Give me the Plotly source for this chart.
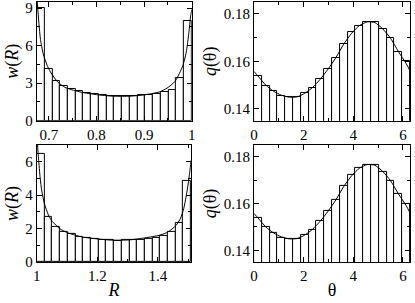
import numpy as np
import plotly.graph_objects as go

# ---------------- data ----------------
# top-left: w(R), 20 bins on [0.675, 1.0]
wR1_edges = np.linspace(0.675, 1.0, 21)
wR1_hist = [9.0, 4.15, 3.2, 2.75, 2.52, 2.36, 2.22, 2.1, 2.03, 1.98,
            1.96, 1.97, 2.0, 2.03, 2.08, 2.16, 2.32, 2.45, 3.44, 8.0]
wR1_curve_R = [0.6752, 0.6793, 0.6826, 0.6883, 0.6965, 0.7034, 0.7193, 0.7344,
               0.7518, 0.769, 0.8, 0.833, 0.8657, 0.8988, 0.932, 0.948, 0.965,
               0.974, 0.9814, 0.9884, 0.9938, 0.9973, 1.0]
wR1_curve_w = [9.8, 7.8, 6.5, 5.35, 4.43, 3.9, 3.07, 2.66, 2.43, 2.27, 2.08,
               1.96, 1.95, 2.05, 2.3, 2.6, 3.15, 3.78, 4.43, 5.48, 7.04, 8.3, 8.9]

# bottom-left: w(R), 20 bins on [1.0, 1.51]
wR2_edges = np.linspace(1.0, 1.51, 21)
wR2_hist = [6.45, 2.72, 2.1, 1.82, 1.66, 1.53, 1.45, 1.38, 1.32, 1.3,
            1.29, 1.3, 1.32, 1.35, 1.4, 1.47, 1.58, 1.82, 2.35, 4.87]
wR2_curve_R = [1.0015, 1.0055, 1.011, 1.0162, 1.025, 1.038, 1.051, 1.076, 1.1,
               1.126, 1.151, 1.2, 1.252, 1.305, 1.357, 1.408, 1.434, 1.46,
               1.4755, 1.486, 1.497, 1.506, 1.51]
wR2_curve_w = [7.2, 6.17, 5.02, 4.25, 3.49, 2.82, 2.43, 1.99, 1.76, 1.61, 1.49,
               1.38, 1.3, 1.32, 1.44, 1.61, 1.8, 2.18, 2.62, 3.2, 4.25, 5.4, 6.07]

# right panels: q(theta), 20 bins on [0, 2*pi]
q_edges = np.linspace(0.0, 2 * np.pi, 21)
q_hist = [0.1539, 0.1498, 0.1473, 0.1455, 0.1448, 0.1449, 0.1466, 0.1489,
          0.1525, 0.1568, 0.1615, 0.1674, 0.1723, 0.1750, 0.1766, 0.1764,
          0.1735, 0.1698, 0.1640, 0.1600]
q_curve_t = [0.0, 0.157, 0.47, 0.785, 1.1, 1.41, 1.73, 2.04, 2.36, 2.67, 2.98,
             3.30, 3.61, 3.93, 4.24, 4.56, 4.87, 5.18, 5.50, 5.81, 6.13, 6.2832]
q_curve_v = [0.1557, 0.1538, 0.1500, 0.1474, 0.1457, 0.1449, 0.1450, 0.1465,
             0.1490, 0.1525, 0.1567, 0.1616, 0.1672, 0.1718, 0.1750, 0.1766,
             0.1763, 0.1737, 0.1697, 0.1642, 0.1590, 0.1560]

# ---------------- figure ----------------
FONT = "Times New Roman"
fig = go.Figure()


def add_panel(n, edges, hist, cx, cy):
    edges = np.asarray(edges)
    centers = (edges[:-1] + edges[1:]) / 2
    widths = np.diff(edges)
    xa = "x" if n == 1 else f"x{n}"
    ya = "y" if n == 1 else f"y{n}"
    fig.add_trace(go.Bar(x=centers, y=hist, width=widths, xaxis=xa, yaxis=ya,
                         marker=dict(color="white", line=dict(color="black", width=1)),
                         showlegend=False, hoverinfo="skip"))
    fig.add_trace(go.Scatter(x=cx, y=cy, mode="lines", xaxis=xa, yaxis=ya,
                             line=dict(color="black", width=1, shape="spline", smoothing=0.6),
                             showlegend=False, cliponaxis=True))


add_panel(1, wR1_edges, wR1_hist, wR1_curve_R, wR1_curve_w)
add_panel(2, q_edges, q_hist, q_curve_t, q_curve_v)
add_panel(3, wR2_edges, wR2_hist, wR2_curve_R, wR2_curve_w)
add_panel(4, q_edges, q_hist, q_curve_t, q_curve_v)

W, H = 415, 303
xl = [33.5 / W, 191.5 / W]
xl3 = [33.5 / W, 190.7 / W]
xr = [255 / W, 414 / W]
yt = [(H - 123.3) / H, (H - 1) / H]
yb = [(H - 269) / H, (H - 148.3) / H]

tickfont = dict(family=FONT, size=15, color="black")
titlefont = dict(family=FONT, size=18, color="black")


def ax(domain, rng, dtick, minor, title=None, anchor=None, fmt=None, standoff=None):
    d = dict(domain=domain, range=rng, dtick=dtick, tick0=0, showline=True, mirror="ticks",
             linecolor="black", linewidth=1, ticks="inside", ticklen=5, tickwidth=1,
             tickcolor="black", showgrid=False, zeroline=False, tickfont=tickfont,
             minor=dict(ticks="inside", ticklen=3, dtick=minor, tickcolor="black",
                        tickwidth=1, showgrid=False),
             anchor=anchor, fixedrange=True, ticklabeloverflow="allow")
    if fmt:
        d["tickformat"] = fmt
    if title:
        d["title"] = dict(text=title, font=titlefont, standoff=standoff if standoff is not None else 2)
    return d


fig.update_layout(
    width=W, height=H, autosize=False,
    margin=dict(l=0, r=0, t=0, b=0),
    paper_bgcolor="white", plot_bgcolor="white",
    font=dict(family=FONT, size=15, color="black"),
    bargap=0,
    xaxis=ax(xl, [0.675, 1.0], 0.1, 0.05, anchor="y"),
    yaxis=ax(yt, [0, 9.5], 3, 1.5, title="<i>w</i>(<i>R</i>)", anchor="x"),
    xaxis2=ax(xr, [0, 2 * np.pi], 2, 1, anchor="y2"),
    yaxis2=ax(yt, [0.135, 0.185], 0.02, 0.01, title="<i>q</i>(θ)", anchor="x2", fmt=".2f"),
    xaxis3=ax(xl3, [1.0, 1.51], 0.2, 0.1, title="<i>R</i>", anchor="y3", standoff=0),
    yaxis3=ax(yb, [0, 7], 2, 1, title="<i>w</i>(<i>R</i>)", anchor="x3"),
    xaxis4=ax(xr, [0, 2 * np.pi], 2, 1, title="θ", anchor="y4", standoff=0),
    yaxis4=ax(yb, [0.135, 0.185], 0.02, 0.01, title="<i>q</i>(θ)", anchor="x4", fmt=".2f"),
)

fig.write_html("out.html", config={"displayModeBar": False},
               post_script="document.body.style.margin='0';document.body.style.padding='0';")
